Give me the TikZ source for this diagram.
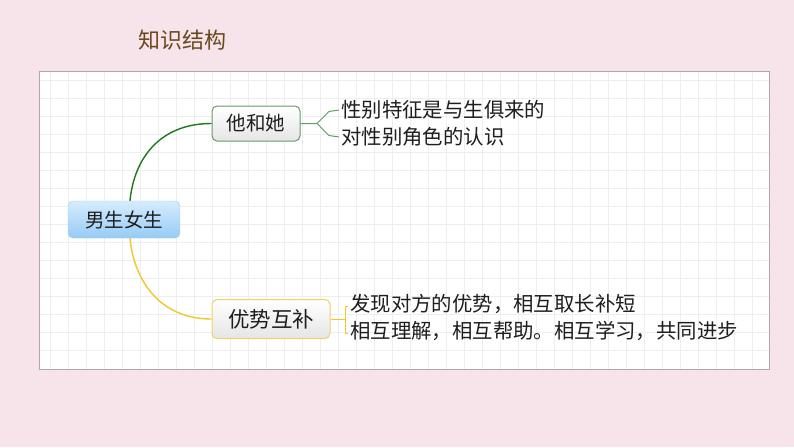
\documentclass[tikz,border=0pt]{standalone}
\usepackage{fontspec}
\setmainfont{Noto Sans CJK SC}
\usepackage{tikz}
\usetikzlibrary{arrows,shapes,positioning}
\usepackage{xcolor}
\definecolor{mmpink}{RGB}{247,228,234}
\definecolor{mmbrown}{RGB}{105,72,32}
\definecolor{mmgrid}{RGB}{238,238,238}
\definecolor{mmframe}{RGB}{170,170,170}
\definecolor{mmbluetop}{RGB}{214,236,253}
\definecolor{mmbluebot}{RGB}{150,203,246}
\definecolor{mmblueline}{RGB}{160,205,240}
\definecolor{mmgreen}{RGB}{30,120,30}
\definecolor{mmgreenbox}{RGB}{100,155,100}
\definecolor{mmyellow}{RGB}{240,200,40}
\definecolor{mmyellowbox}{RGB}{240,210,100}
\definecolor{mmtext}{RGB}{30,30,30}
\tikzstyle{rootbox} = [draw=mmblueline,rounded corners=5pt,top color=mmbluetop,bottom color=mmbluebot,minimum width=112pt,minimum height=37pt,inner sep=0pt,text=mmtext,font=\fontsize{19.5pt}{22pt}\selectfont]
\tikzstyle{subbox} = [line width=1pt,rounded corners=5pt,top color=white,bottom color=black!10,inner sep=0pt,text=mmtext]
\tikzstyle{leaf} = [anchor=west,inner sep=0pt,text=mmtext,font=\fontsize{20.4pt}{24pt}\selectfont]
\tikzstyle{greenline} = [mmgreen,line width=1.4pt]
\tikzstyle{yellowline} = [mmyellow,line width=1.4pt]

\begin{document}
\begin{tikzpicture}[x=1pt,y=-1pt]
\useasboundingbox (0,0) rectangle (794,447);
\fill[mmpink] (0,0) rectangle (794,447);

% Title
\node[text=mmbrown,font=\fontsize{22pt}{26pt}\selectfont] (title) at (182,40) {知识结构};

% Panel with grid
\fill[white] (39,71) rectangle (769,369);
\foreach \gx in {50,68,...,760}
  \draw[mmgrid,line width=0.6pt] (\gx,71) -- (\gx,369);
\foreach \gy in {80,98,...,360}
  \draw[mmgrid,line width=0.6pt] (39,\gy) -- (769,\gy);
\draw[mmframe,line width=0.8pt] (39,71) rectangle (769,369);

% Nodes
\node[rootbox] (root) at (124,219.5) {男生女生};
\node[subbox,draw=mmgreenbox,minimum width=88pt,minimum height=35pt,font=\fontsize{19.5pt}{22pt}\selectfont] (him) at (256,123.5) {他和她};
\node[subbox,draw=mmyellowbox,minimum width=118pt,minimum height=39pt,font=\fontsize{21.5pt}{24pt}\selectfont] (comp) at (271,319) {优势互补};

% Leaves
\node[leaf] (h1) at (341,110) {性别特征是与生俱来的};
\node[leaf] (h2) at (341,137) {对性别角色的认识};
\node[leaf] (c1) at (350,304) {发现对方的优势，相互取长补短};
\node[leaf] (c2) at (350,331) {相互理解，相互帮助。相互学习，共同进步};

% Main branches
\draw[greenline] ([xshift=6pt]root.north) .. controls +(4,-42) and +(-52,0) .. (him.west);
\draw[yellowline] ([xshift=6pt]root.south) .. controls +(4,42) and +(-52,0) .. (comp.west);

% Fork to the right of him
\coordinate (hfork) at (317,123.5);
\draw[mmgreenbox,line width=1pt] (him.east) -- (hfork)
  (hfork) -- ++(12,-12) -- ([xshift=-2pt]h1.west)
  (hfork) -- ++(12,12) -- ([xshift=-2pt]h2.west);

% Bracket to the right of comp
\coordinate (cfork) at (345,319);
\draw[mmyellow,line width=1pt] (comp.east) -- (cfork)
  (cfork) -- ++(0,-13) -- ++(3,0)
  (cfork) -- ++(0,14) -- ++(3,0);
\end{tikzpicture}
\end{document}
